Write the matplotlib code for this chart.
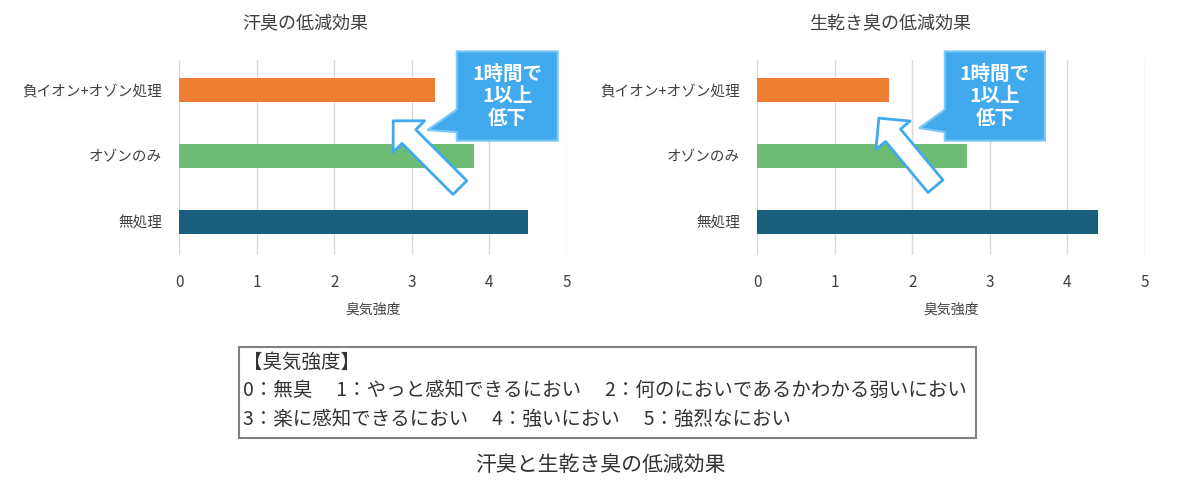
import matplotlib
matplotlib.use("Agg")
import matplotlib.pyplot as plt
from matplotlib.patches import Polygon, Rectangle, FancyArrowPatch, ArrowStyle

plt.rcParams['font.family'] = ['Noto Sans CJK JP', 'DejaVu Sans']

categories = ["無処理", "オゾンのみ", "負イオン+オゾン処理"]
sweat_values = [4.5, 3.8, 3.3]
damp_values = [4.4, 2.7, 1.7]
bar_colors = ["#1A5E7E", "#6DBB74", "#ED7D31"]
titles = ["汗臭の低減効果", "生乾き臭の低減効果"]
xlabel = "臭気強度"
callout_text = "1時間で\n1以上\n低下"
legend_lines = [
    "【臭気強度】",
    "0：無臭　 1：やっと感知できるにおい　 2：何のにおいであるかわかる弱いにおい",
    "3：楽に感知できるにおい　 4：強いにおい　 5：強烈なにおい",
]
caption = "汗臭と生乾き臭の低減効果"

W, H = 1198, 484
fig = plt.figure(figsize=(W / 100, H / 100), dpi=100)

callout_blue = "#41A9EE"
text_gray = "#404040"


def draw_panel(left_px, values, title, title_x_px, box, tip, arrow):
    ax = fig.add_axes([left_px / W, 1 - 255 / H, 388 / W, 195 / H])
    y = list(range(len(categories)))
    ax.barh(y, values, height=0.36, color=bar_colors, zorder=3)
    ax.set_xlim(0, 5)
    ax.set_ylim(-0.5, 2.45)
    ax.set_yticks(y)
    ax.set_yticklabels(categories, fontsize=10.5, color=text_gray)
    ax.set_xticks(range(6))
    ax.tick_params(axis='x', labelsize=11, colors=text_gray, length=0, pad=14)
    ax.tick_params(axis='y', length=0, pad=12)
    ax.grid(axis='x', color="#D9D9D9", lw=1, zorder=0)
    for s in ax.spines.values():
        s.set_visible(False)
    ax.set_xlabel(xlabel, fontsize=10, color=text_gray, labelpad=8)
    fig.text(title_x_px / W, 1 - 24 / H, title, fontsize=13, color=text_gray,
             ha='center', va='center')

    # callout box with pointer
    x0, x1, y0, y1 = box
    pts = [(x0, y1), (x1, y1), (x1, y0), (x0, y0),
           (x0, tip[2]), tip[:2], (x0, tip[3])]
    ax.add_patch(Polygon(pts, closed=True, facecolor=callout_blue,
                         edgecolor="#7CC8F5", lw=1.5, clip_on=False, zorder=5))
    ax.text((x0 + x1) / 2, (y0 + y1) / 2, callout_text, color="white",
            fontsize=14, fontweight='bold', ha='center', va='center',
            linespacing=1.2, zorder=6)

    # big hollow arrow
    style = ArrowStyle.Simple(head_length=0.8, head_width=1.6, tail_width=0.7)
    ax.add_patch(FancyArrowPatch(arrow[0], arrow[1], arrowstyle=style,
                                 mutation_scale=20, facecolor="white",
                                 edgecolor=callout_blue, lw=2, zorder=6,
                                 clip_on=False, shrinkA=0, shrinkB=0))
    return ax


draw_panel(179, sweat_values, titles[0], 305,
           box=(3.58, 4.88, 1.23, 2.58), tip=(3.2, 1.39, 1.36, 1.70),
           arrow=((3.62, 0.52), (2.76, 1.53)))
draw_panel(757, damp_values, titles[1], 890,
           box=(2.42, 3.71, 1.23, 2.58), tip=(2.09, 1.42, 1.36, 1.70),
           arrow=((2.30, 0.54), (1.57, 1.57)))

# legend box
fig.patches.append(Rectangle((239 / W, 1 - 438 / H), (976 - 239) / W, 91 / H,
                             transform=fig.transFigure, facecolor="white",
                             edgecolor="#808080", lw=1.5))
for i, line in enumerate(legend_lines):
    fig.text(243 / W, 1 - (362 + 28.5 * i) / H, line, fontsize=14,
             color="#333333", ha='left', va='center')

fig.text(600 / W, 1 - 465 / H, caption, fontsize=15, color="#333333",
         ha='center', va='center')

fig.savefig("out.png", dpi=100)
